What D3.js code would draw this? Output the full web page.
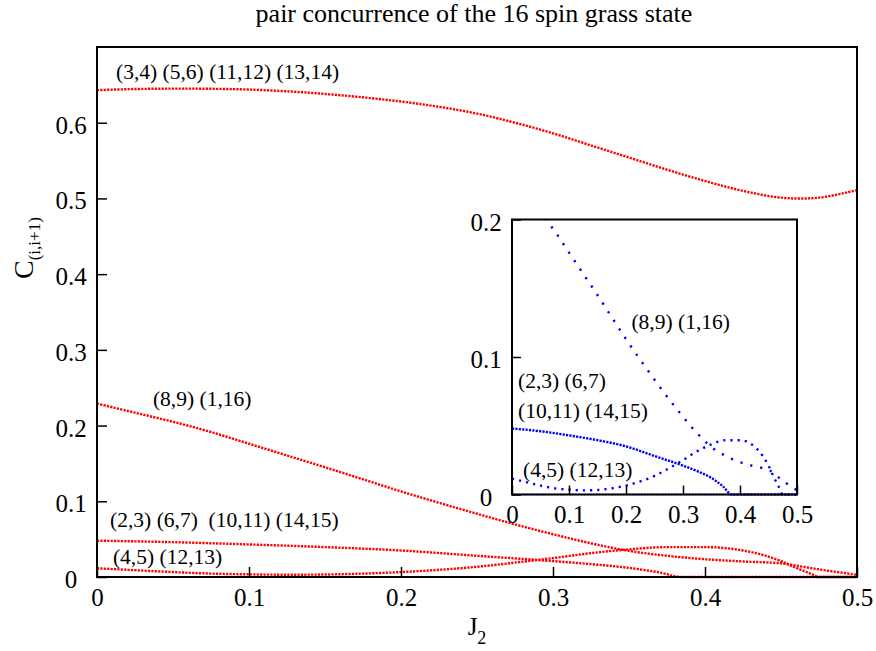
<!DOCTYPE html>
<html>
<head>
<meta charset="utf-8">
<script src="https://cdn.jsdelivr.net/npm/d3@7"></script>
<style>
body { margin: 0; background: #fff; }
text { font-family: "Liberation Serif", "Times New Roman", serif; fill: #000; }
</style>
</head>
<body>
<div id="chart"></div>
<script>
// tick values
const xTicks = [0, 0.1, 0.2, 0.3, 0.4, 0.5];
const yTicks = [0, 0.1, 0.2, 0.3, 0.4, 0.5, 0.6];
const insetYTicks = [0, 0.1, 0.2];

// concurrence, [J2, C]
const pairs34 = [[0, 0.643], [0.025, 0.6445], [0.05, 0.645], [0.075, 0.6448], [0.1, 0.6438], [0.125, 0.6415],
    [0.15, 0.638], [0.175, 0.6335], [0.2, 0.628], [0.225, 0.621], [0.25, 0.612], [0.275, 0.600],
    [0.3, 0.586], [0.325, 0.570], [0.35, 0.554], [0.375, 0.538], [0.4, 0.523], [0.425, 0.510],
    [0.45, 0.501], [0.475, 0.501], [0.5, 0.511]];
const pairs89 = [[0, 0.229], [0.025, 0.217], [0.05, 0.205], [0.075, 0.1915], [0.1, 0.176], [0.125, 0.1605],
    [0.15, 0.145], [0.175, 0.129], [0.2, 0.113], [0.225, 0.098], [0.25, 0.0835], [0.275, 0.0695],
    [0.3, 0.0565], [0.325, 0.0445], [0.35, 0.0345], [0.375, 0.028], [0.4, 0.0235], [0.425, 0.0205],
    [0.45, 0.018], [0.475, 0.010], [0.5, 0.003]];
const pairs23 = [[0, 0.048], [0.05, 0.046], [0.1, 0.043], [0.15, 0.0395], [0.2, 0.035], [0.25, 0.028],
    [0.3, 0.021], [0.325, 0.017], [0.35, 0.012], [0.37, 0.006], [0.385, 0], [0.5, 0]];
const pairs45 = [[0, 0.0115], [0.025, 0.009], [0.05, 0.0065], [0.075, 0.0045], [0.1, 0.0035], [0.125, 0.003],
    [0.15, 0.0033], [0.175, 0.0045], [0.2, 0.0065], [0.225, 0.0095], [0.25, 0.0135], [0.275, 0.019],
    [0.3, 0.025], [0.325, 0.0315], [0.35, 0.0365], [0.375, 0.0395], [0.4, 0.0395], [0.425, 0.035],
    [0.44, 0.028], [0.45, 0.021], [0.46, 0.012], [0.47, 0.004], [0.475, 0], [0.5, 0]];
const pairsZero = [[0, 0], [0.5, 0]];

const label34 = "(3,4) (5,6) (11,12) (13,14)";
const label89 = "(8,9) (1,16)";
const label23 = "(2,3) (6,7)  (10,11) (14,15)";
const label23a = "(2,3) (6,7)";
const label23b = "(10,11) (14,15)";
const label45 = "(4,5) (12,13)";
const title = "pair concurrence of the 16 spin grass state";

const width = 876;
const height = 651;

const svg = d3.select("#chart")
    .append("svg")
    .attr("width", width)
    .attr("height", height)
    .attr("viewBox", [0, 0, width, height]);

const main = { left: 97, top: 47, w: 760, h: 530 };
const inset = { left: 512, top: 219.5, w: 285, h: 275 };

const xScale = d3.scaleLinear().domain([0, 0.5]).range([main.left, main.left + main.w]);
const yScale = d3.scaleLinear().domain([0, 0.7]).range([main.top + main.h, main.top]);
const xIn = d3.scaleLinear().domain([0, 0.5]).range([inset.left, inset.left + inset.w]);
const yIn = d3.scaleLinear().domain([0, 0.2]).range([inset.top + inset.h, inset.top]);

function drawAxes(x, y, xt, yt, tickLen, labelOff) {
    const bottom = y.range()[0];
    const left = x.range()[0];
    svg.append("g")
        .attr("transform", `translate(0,${bottom})`)
        .call(d3.axisBottom(x).tickValues(xt).tickSize(-tickLen).tickFormat((d) => d))
        .call((g) => g.select(".domain").remove())
        .call((g) => g.selectAll("line").attr("stroke-width", 1.5))
        .call((g) => g.selectAll("text")
            .attr("font-family", "Liberation Serif, serif")
            .attr("font-size", 25)
            .attr("dy", null)
            .attr("y", labelOff));
    svg.append("g")
        .attr("transform", `translate(${left},0)`)
        .call(d3.axisLeft(y).tickValues(yt).tickSize(-tickLen).tickFormat((d) => d))
        .call((g) => g.select(".domain").remove())
        .call((g) => g.selectAll("line").attr("stroke-width", 1.5))
        .call((g) => g.selectAll("text")
            .attr("font-family", "Liberation Serif, serif")
            .attr("font-size", 25)
            .attr("text-anchor", "middle")
            .attr("dy", null)
            .attr("x", -26)
            .attr("y", 10.5));
}

function drawLine(parent, data, x, y, color, dash, sw, curve) {
    parent.append("path")
        .datum(data)
        .attr("d", d3.line().x((d) => x(d[0])).y((d) => y(d[1])).curve(curve || d3.curveMonotoneX))
        .attr("fill", "none")
        .attr("stroke", color)
        .attr("stroke-width", sw)
        .attr("stroke-dasharray", dash);
}

function addLabel(x, y, str) {
    svg.append("text")
        .attr("x", x)
        .attr("y", y)
        .attr("font-size", 21.5)
        .style("white-space", "pre")
        .text(str);
}

// title
svg.append("text")
    .attr("x", 474)
    .attr("y", 22)
    .attr("text-anchor", "middle")
    .attr("font-size", 26)
    .text(title);

// main curves
const red = "#ff0000";
const smooth = d3.curveCatmullRom.alpha(0.5);
const mainLines = svg.append("g");
drawLine(mainLines, pairsZero, xScale, yScale, red, "2 1.2", 2);
drawLine(mainLines, pairs34, xScale, yScale, red, "2.2 1.2", 2.4, smooth);
drawLine(mainLines, pairs89, xScale, yScale, red, "2.2 1.2", 2.4, smooth);
drawLine(mainLines, pairs23, xScale, yScale, red, "2.2 1.2", 2.4);
drawLine(mainLines, pairs45, xScale, yScale, red, "2.2 1.2", 2.4);

drawAxes(xScale, yScale, xTicks, yTicks, 10, 29);

svg.append("rect")
    .attr("x", main.left)
    .attr("y", main.top)
    .attr("width", main.w)
    .attr("height", main.h)
    .attr("fill", "none")
    .attr("stroke", "#000")
    .attr("stroke-width", 2);

addLabel(xScale(0.0125), yScale(0.658), label34);
addLabel(xScale(0.0368), yScale(0.226), label89);
addLabel(xScale(0.0086), yScale(0.066), label23);
addLabel(xScale(0.0105), yScale(0.0172), label45);

// inset
svg.append("rect")
    .attr("x", inset.left)
    .attr("y", inset.top)
    .attr("width", inset.w)
    .attr("height", inset.h)
    .attr("fill", "#fff");

svg.append("clipPath")
    .attr("id", "inset-clip")
    .append("rect")
    .attr("x", inset.left)
    .attr("y", inset.top)
    .attr("width", inset.w)
    .attr("height", inset.h + 2);

const blue = "#0000ff";
const insetLines = svg.append("g").attr("clip-path", "url(#inset-clip)");
drawLine(insetLines, pairsZero, xIn, yIn, blue, "1.5 1.5", 1.5);
drawLine(insetLines, pairs89, xIn, yIn, blue, "2.2 8", 2.4, smooth);
drawLine(insetLines, pairs23, xIn, yIn, blue, "2.2 1.2", 2.4);
drawLine(insetLines, pairs45, xIn, yIn, blue, "2.2 5", 2.4);

drawAxes(xIn, yIn, xTicks, insetYTicks, 9, 28);

svg.append("rect")
    .attr("x", inset.left)
    .attr("y", inset.top)
    .attr("width", inset.w)
    .attr("height", inset.h)
    .attr("fill", "none")
    .attr("stroke", "#000")
    .attr("stroke-width", 2);

addLabel(xIn(0.2095), yIn(0.1207), label89);
addLabel(xIn(0.0106), yIn(0.0778), label23a);
addLabel(xIn(0.0106), yIn(0.0553), label23b);
addLabel(xIn(0.0194), yIn(0.0124), label45);

// axis titles
const xTitle = svg.append("text")
    .attr("x", 477)
    .attr("y", 635)
    .attr("text-anchor", "middle")
    .attr("font-size", 25);
xTitle.append("tspan").text("J");
xTitle.append("tspan").attr("font-size", 18).attr("dy", 9).text("2");

const yTitle = svg.append("text")
    .attr("transform", "translate(33,279) rotate(-90)")
    .attr("font-size", 28);
yTitle.append("tspan").text("C");
yTitle.append("tspan").attr("font-size", 17).attr("dy", 7).text("(i,i+1)");
</script>
</body>
</html>
